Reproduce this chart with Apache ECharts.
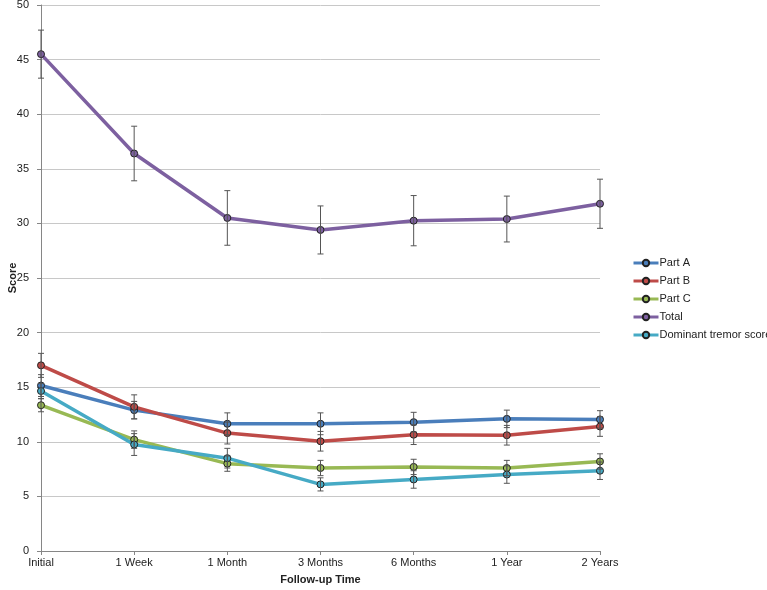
<!DOCTYPE html>
<html>
<head>
<meta charset="utf-8">
<script src="https://cdn.jsdelivr.net/npm/echarts@6/dist/echarts.min.js"></script>
<style>html,body{margin:0;padding:0;background:#fff}#c{width:767px;height:590px}</style>
</head>
<body>
<div id="c"></div>
<script>
const categories = ['Initial','1 Week','1 Month','3 Months','6 Months','1 Year','2 Years'];
const partA = [15.15, 12.9, 11.65, 11.65, 11.8, 12.1, 12.05];
const partB = [17.0, 13.2, 10.8, 10.05, 10.65, 10.6, 11.4];
const partC = [13.35, 10.2, 8.0, 7.6, 7.7, 7.6, 8.2];
const total = [45.5, 36.4, 30.5, 29.4, 30.25, 30.4, 31.8];
const dominant = [14.65, 9.75, 8.5, 6.1, 6.55, 7.0, 7.35];
const partAErr = [1.0, 0.8, 1.0, 1.0, 0.9, 0.8, 0.8];
const partBErr = [1.1, 1.1, 1.0, 0.9, 0.9, 0.9, 0.9];
const partCErr = [0.6, 0.8, 0.7, 0.7, 0.7, 0.7, 0.7];
const totalErr = [2.2, 2.5, 2.5, 2.2, 2.3, 2.1, 2.25];
const dominantErr = [0.7, 1.0, 0.9, 0.6, 0.8, 0.8, 0.8];
const yTicks = {min: 0, max: 50, interval: 5};

const seriesDefs = [
  {name: 'Part A', data: partA, err: partAErr, color: '#4a7ebb'},
  {name: 'Part B', data: partB, err: partBErr, color: '#be4b48'},
  {name: 'Part C', data: partC, err: partCErr, color: '#98b954'},
  {name: 'Total', data: total, err: totalErr, color: '#7d60a0'},
  {name: 'Dominant tremor score', data: dominant, err: dominantErr, color: '#46aac5'}
];

const errData = [];
seriesDefs.forEach(s => s.data.forEach((v, i) => errData.push([i, v - s.err[i], v + s.err[i]])));

const font = 'Liberation Sans, Arial, sans-serif';
const chart = echarts.init(document.getElementById('c'), null, {renderer: 'canvas'});
const series = seriesDefs.map(s => ({
  name: s.name, type: 'line', data: s.data,
  symbol: 'circle', symbolSize: 7, showSymbol: true,
  lineStyle: {color: s.color, width: 3.5},
  itemStyle: {color: s.color, borderColor: '#222', borderWidth: 1},
  emphasis: {disabled: true}, z: 2
}));
series.push({
  type: 'custom', name: 'err', data: errData, z: 5, silent: true,
  encode: {x: 0, y: [1, 2]},
  renderItem: function (params, api) {
    const x = api.value(0);
    const lo = api.coord([x, api.value(1)]);
    const hi = api.coord([x, api.value(2)]);
    const w = 3;
    const st = {stroke: '#555', lineWidth: 1};
    return {type: 'group', children: [
      {type: 'line', shape: {x1: lo[0], y1: lo[1], x2: hi[0], y2: hi[1]}, style: st},
      {type: 'line', shape: {x1: lo[0] - w, y1: lo[1], x2: lo[0] + w, y2: lo[1]}, style: st},
      {type: 'line', shape: {x1: hi[0] - w, y1: hi[1], x2: hi[0] + w, y2: hi[1]}, style: st}
    ]};
  }
});

chart.setOption({
  animation: false,
  backgroundColor: '#fff',
  grid: {left: 41, right: 167, top: 5, bottom: 39, containLabel: false, outerBoundsMode: 'none'},
  legend: {
    orient: 'vertical', left: 632, top: 256, itemGap: 4, itemWidth: 25, itemHeight: 8,
    padding: 0,
    lineStyle: {width: 3},
    data: seriesDefs.map(s => s.name),
    textStyle: {fontFamily: font, fontSize: 11, color: '#222', lineHeight: 14, padding: [0, 0, 0, -4]}
  },
  xAxis: {
    type: 'category', data: categories, boundaryGap: false,
    name: 'Follow-up Time', nameLocation: 'middle', nameGap: 23, nameMoveOverlap: false,
    nameTextStyle: {fontFamily: font, fontSize: 11, fontWeight: 'bold', color: '#222'},
    axisLine: {lineStyle: {color: '#868686'}},
    axisTick: {show: true, alignWithLabel: true, length: 4, lineStyle: {color: '#868686'}},
    axisLabel: {fontFamily: font, fontSize: 11, color: '#222', margin: 6},
    splitLine: {show: false}
  },
  yAxis: {
    type: 'value', min: yTicks.min, max: yTicks.max, interval: yTicks.interval,
    name: 'Score', nameLocation: 'middle', nameGap: 23, nameRotate: 90, nameMoveOverlap: false,
    nameTextStyle: {fontFamily: font, fontSize: 11, fontWeight: 'bold', color: '#222'},
    axisLine: {show: true, lineStyle: {color: '#868686'}},
    axisTick: {show: true, length: 4, inside: false, lineStyle: {color: '#868686'}},
    axisLabel: {fontFamily: font, fontSize: 11, color: '#222', margin: 12},
    splitLine: {lineStyle: {color: '#c8c8c8'}}
  },
  series: series
});
</script>
</body>
</html>
